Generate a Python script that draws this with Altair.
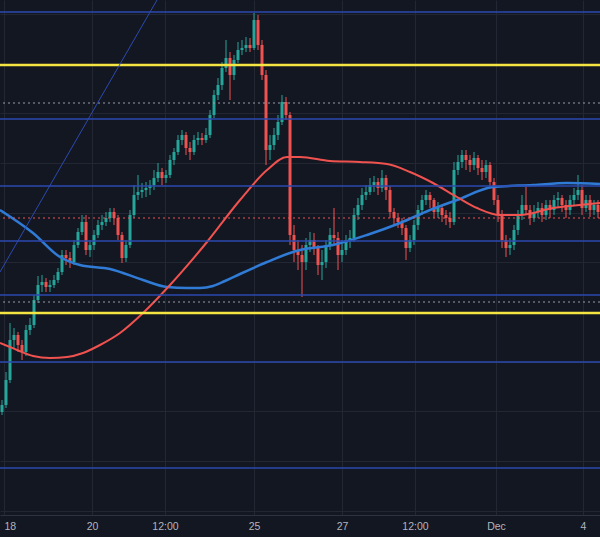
import altair as alt
import pandas as pd

# ---- candle data (bar index 0..149), price in points ----
first_open = 103
close = [110, 135, 175, 180, 170, 163, 185, 190, 215, 230,
         233, 228, 230, 235, 243, 260, 257, 253, 270, 283,
         293, 265, 270, 280, 290, 293, 297, 303, 297, 280,
         257, 270, 300, 320, 323, 325, 327, 330, 337, 343,
         337, 340, 355, 363, 375, 380, 367, 363, 375, 377,
         375, 380, 400, 420, 430, 447, 457, 440, 455, 465,
         467, 470, 467, 495, 470, 440, 365, 370, 380, 393,
         413, 400, 280, 265, 260, 253, 270, 275, 267, 250,
         253, 270, 280, 277, 260, 265, 275, 277, 300, 310,
         320, 323, 330, 333, 327, 337, 325, 303, 297, 293,
         287, 267, 275, 290, 305, 315, 320, 315, 303, 307,
         300, 297, 293, 345, 353, 360, 355, 350, 357, 347,
         343, 350, 333, 315, 300, 275, 267, 270, 285, 300,
         310, 305, 297, 303, 307, 300, 310, 305, 315, 317,
         310, 305, 315, 320, 325, 307, 315, 305, 310, 303]
high = [115, 143, 192, 187, 183, 175, 190, 197, 220, 239,
        240, 237, 235, 240, 247, 265, 265, 263, 275, 287,
        300, 300, 275, 285, 295, 300, 303, 307, 307, 300,
        283, 275, 305, 330, 340, 332, 333, 335, 345, 352,
        347, 345, 360, 367, 380, 385, 383, 373, 380, 383,
        382, 387, 405, 425, 437, 453, 475, 463, 460, 473,
        475, 478, 477, 502, 500, 475, 445, 380, 387, 400,
        420, 418, 403, 290, 275, 270, 277, 283, 282, 270,
        265, 275, 287, 307, 283, 275, 280, 285, 307, 317,
        327, 330, 337, 339, 337, 345, 340, 329, 307, 302,
        297, 290, 280, 295, 310, 320, 325, 323, 317, 313,
        310, 305, 303, 353, 360, 365, 365, 360, 363, 360,
        355, 355, 353, 337, 320, 305, 280, 277, 290, 305,
        320, 328, 310, 310, 313, 312, 315, 315, 320, 323,
        320, 315, 320, 327, 340, 330, 320, 320, 315, 315]
low = [100, 107, 132, 167, 163, 155, 159, 180, 187, 212,
       223, 223, 223, 227, 232, 240, 250, 247, 250, 267,
       280, 260, 258, 265, 277, 285, 289, 293, 290, 275,
       252, 253, 267, 297, 315, 317, 318, 320, 325, 333,
       330, 332, 337, 350, 360, 370, 360, 355, 360, 370,
       370, 372, 377, 397, 415, 425, 443, 415, 435, 452,
       460, 463, 463, 465, 465, 435, 350, 355, 365, 375,
       390, 395, 270, 253, 245, 218, 245, 263, 260, 240,
       235, 247, 265, 270, 245, 253, 260, 267, 273, 295,
       305, 315, 320, 323, 320, 323, 315, 297, 290, 287,
       280, 255, 263, 270, 285, 300, 310, 307, 297, 297,
       293, 290, 287, 290, 340, 347, 345, 343, 345, 340,
       335, 337, 327, 310, 293, 267, 258, 260, 265, 280,
       295, 300, 290, 293, 297, 293, 295, 297, 300, 307,
       303, 297, 300, 310, 315, 300, 303, 298, 300, 297]

# ---- moving averages (bar index, price) ----
red_ma_x = [-0.5, 3.75, 7.75, 12, 16.25, 20.25, 24.5, 29.5, 35.25, 42, 51.25, 59.5,
            66.25, 71.25, 74.5, 82, 89.5, 96.25, 102, 107.75, 113.75, 118.75, 124.5,
            129.5, 137.75, 144.5, 149.5]
red_ma_p = [172, 165, 159, 157, 158, 162, 170, 182, 202, 230, 273, 315,
            345, 358, 358, 354, 353, 351, 343, 332, 318, 307, 300,
            300, 307, 310, 312]
blue_ma_x = [-0.5, 7.75, 14.5, 19.5, 27, 35.25, 41.25, 46.25, 49.5, 52.75, 55.75,
             59.5, 66.25, 72, 74.5, 82.75, 91.25, 99.5, 107, 113.75, 122.75, 132.75,
             141.25, 149.5]
blue_ma_p = [305, 282, 258, 250, 246, 235, 228, 227, 227, 229, 234,
             241, 253, 262, 265, 270, 280, 292, 305, 315, 328, 330,
             332, 331]

# ---- drawn levels (price) ----
blue_levels = [503, 396, 329, 274, 220, 153, 47]
yellow_levels = [450, 202]
white_dotted_levels = [412, 213]
last_price_level = [297]
trend_x = [-0.5, 38.75]
trend_p = [243, 515]

# ---- axes ----
grid_prices = [501, 451, 402, 352, 302, 253, 203, 153, 104, 54, 4]
tick_pos = [0.5, 22.5, 40.75, 63, 85, 103.25, 123.5, 145.25]
tick_labels = ["18", "20", "12:00", "25", "27", "12:00", "Dec", "4"]

df = pd.DataFrame({"i": range(len(close)), "close": close, "high": high, "low": low})
df["open"] = [first_open] + close[:-1]
df["dir"] = ["up" if c >= o else "down" for o, c in zip(df["open"], df["close"])]

expr = "''"
for v, l in reversed(list(zip(tick_pos, tick_labels))):
    expr = f"datum.value == {v} ? '{l}' : {expr}"
# first label sits at the left edge: anchor it there
align_expr = f"datum.value == {tick_pos[0]} ? 'left' : 'center'"

xscale = alt.Scale(domain=[-0.5, 149.5], nice=False, zero=False, padding=0)
yscale = alt.Scale(domain=[0, 515], nice=False, zero=False, padding=0)
xaxis = alt.Axis(values=tick_pos, labelExpr=expr, grid=True, gridColor="#232733",
                 ticks=False, domainColor="#2e3240", labelColor="#b2b5be",
                 labelFontSize=10.5, labelFont="Liberation Sans", labelPadding=6,
                 labelAlign={"expr": align_expr}, labelOffset=0,
                 labelFlush=False, labelBound=False, labelOverlap=False, title=None)
yaxis = alt.Axis(values=grid_prices, labels=False, ticks=False, domain=False,
                 grid=True, gridColor="#232733", title=None)
colors = alt.Scale(domain=["up", "down"], range=["#26a69a", "#ef5350"])

wicks = alt.Chart(df).mark_rule(strokeWidth=1).encode(
    x=alt.X("i:Q", scale=xscale, axis=xaxis, title=None),
    y=alt.Y("low:Q", scale=yscale, axis=yaxis, title=None),
    y2="high:Q",
    color=alt.Color("dir:N", scale=colors, legend=None),
)
bodies = alt.Chart(df).mark_bar(size=3).encode(
    x=alt.X("i:Q", title=None),
    y=alt.Y("open:Q", title=None),
    y2="close:Q",
    color=alt.Color("dir:N", scale=colors, legend=None),
)

red_ma = alt.Chart(pd.DataFrame({"x": red_ma_x, "p": red_ma_p})).mark_line(
    color="#f0524f", strokeWidth=2, interpolate="monotone", clip=True
).encode(x=alt.X("x:Q", title=None), y=alt.Y("p:Q", title=None))
blue_ma = alt.Chart(pd.DataFrame({"x": blue_ma_x, "p": blue_ma_p})).mark_line(
    color="#2f7bd6", strokeWidth=2.5, interpolate="monotone", clip=True
).encode(x=alt.X("x:Q", title=None), y=alt.Y("p:Q", title=None))

blue_rules = alt.Chart(pd.DataFrame({"p": blue_levels})).mark_rule(
    color="#2d4ab0", strokeWidth=1.5
).encode(y=alt.Y("p:Q", title=None))
yellow_rules = alt.Chart(pd.DataFrame({"p": yellow_levels})).mark_rule(
    color="#f4e542", strokeWidth=2.5
).encode(y=alt.Y("p:Q", title=None))
white_rules = alt.Chart(pd.DataFrame({"p": white_dotted_levels})).mark_rule(
    color="#9a9da6", strokeWidth=1, strokeDash=[2, 3]
).encode(y=alt.Y("p:Q", title=None))
last_rule = alt.Chart(pd.DataFrame({"p": last_price_level})).mark_rule(
    color="#ef5350", strokeWidth=1, strokeDash=[2, 3]
).encode(y=alt.Y("p:Q", title=None))
trend = alt.Chart(pd.DataFrame({"x": trend_x, "p": trend_p})).mark_line(
    color="#2d4ab0", strokeWidth=1, clip=True
).encode(x=alt.X("x:Q", title=None), y=alt.Y("p:Q", title=None))

chart = alt.layer(
    wicks, bodies, blue_ma, red_ma, blue_rules, yellow_rules, white_rules, last_rule, trend
).properties(
    width=600, height=515, background="#131722",
    padding={"left": 0, "top": 0, "right": 0, "bottom": 22},
    autosize=alt.AutoSizeParams(type="none")
).configure_view(stroke=None)

chart.save("out.html", embed_options={"renderer": "svg", "actions": False})
